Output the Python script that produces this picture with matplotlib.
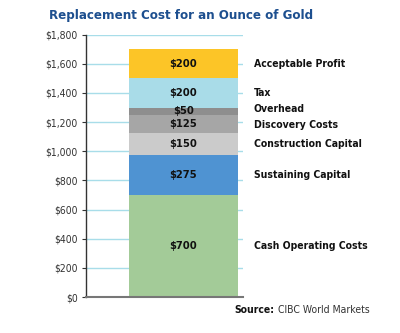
import matplotlib.pyplot as plt
import matplotlib.transforms as mtransforms

plt.rcParams['font.family'] = ['DejaVu Sans']
plt.rcParams['font.stretch'] = 'condensed'

# stacked cost components, bottom to top
components = ['Cash Operating Costs', 'Sustaining Capital', 'Construction Capital',
              'Discovery Costs', 'Overhead', 'Tax', 'Acceptable Profit']
values = [700, 275, 150, 125, 50, 200, 200]
colors = ['#a3cb98', '#4f93d2', '#cbcbcb', '#a6a6a6', '#8e8e8e', '#a9dce8', '#fcc527']

yticks = list(range(0, 1801, 200))

fig = plt.figure(figsize=(4, 3.33), dpi=100)
ax = fig.add_axes([0.215, 0.108, 0.3925, 0.788])

ax.set_xlim(0, 1)
ax.set_ylim(0, 1800)

bottom = 0
for name, v, c in zip(components, values, colors):
    ax.bar(0.621, v, width=0.694, bottom=bottom, color=c, zorder=2)
    mid = bottom + v / 2
    ax.text(0.621, mid, '$%d' % v, ha='center', va='center',
            fontsize=8, fontweight='bold', color='#111111', zorder=3)
    bottom += v

# side labels at segment centres (overhead/discovery nudged apart)
trans = mtransforms.blended_transform_factory(ax.transAxes, ax.transData)
bottom = 0
for name, v in zip(components, values):
    mid = bottom + v / 2
    if name == 'Overhead':
        mid += 15
    elif name == 'Discovery Costs':
        mid -= 10
    ax.text(1.07, mid, name, transform=trans, ha='left', va='center',
            fontsize=7.5, fontweight='bold', color='#111111', clip_on=False)
    bottom += v

ax.set_yticks(yticks)
ax.set_yticklabels(['$' + format(t, ',') for t in yticks])
ax.set_xticks([])
ax.yaxis.grid(True, color='#a8dde9', linewidth=1, zorder=0)
ax.set_axisbelow(True)
ax.tick_params(axis='y', labelsize=7.5, labelcolor='#333333', length=3,
               color='#333333', width=0.8, pad=3)

for s in ['top', 'right']:
    ax.spines[s].set_visible(False)
ax.spines['left'].set_color('#333333')
ax.spines['left'].set_linewidth(1)
ax.spines['bottom'].set_color('#777777')
ax.spines['bottom'].set_linewidth(1.5)

fig.text(0.122, 0.952, 'Replacement Cost for an Ounce of Gold', ha='left', va='center',
         fontsize=9.5, fontweight='bold', color='#1d4f8f')

src = fig.text(0.587, 0.069, 'Source:', ha='left', va='center', fontsize=7.5,
               fontweight='bold', color='#111111')
ax.annotate('CIBC World Markets', xy=(1, 0.5), xycoords=src, xytext=(2, 0),
            textcoords='offset points', ha='left', va='center', fontsize=7.5,
            color='#333333', annotation_clip=False)

fig.savefig('out.png', dpi=100)
